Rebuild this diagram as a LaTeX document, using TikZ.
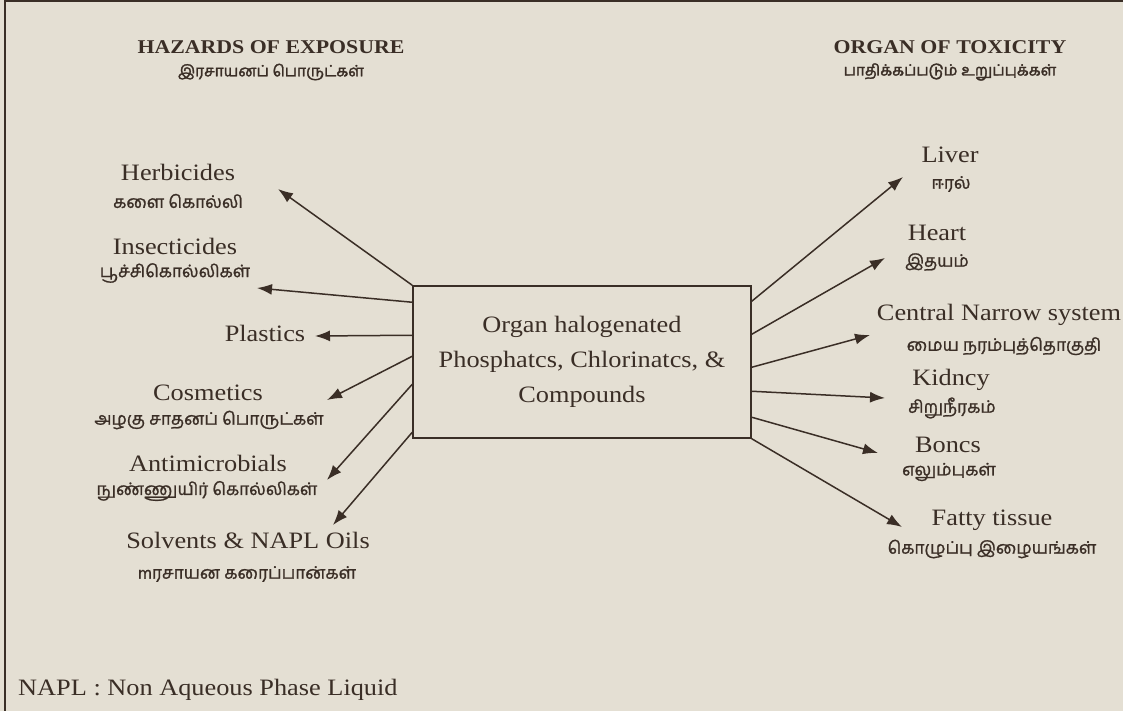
\documentclass[tikz,border=0pt]{standalone}
\usepackage{fontspec}
\setmainfont{Liberation Serif}[FakeStretch=1.12]
\newfontfamily\tamilfont[Script=Tamil,FakeBold=1.2]{Hind Madurai}
\newfontfamily\tamilheadfont[Script=Tamil,FakeBold=2]{Hind Madurai}
\usetikzlibrary{arrows.meta,positioning,calc}
\definecolor{paper}{RGB}{228,223,211}
\definecolor{ink}{RGB}{58,46,38}
\tikzset{
  eng/.style={font=\fontsize{23.5}{26}\selectfont,text=ink,inner sep=0pt},
  tam/.style={font=\tamilfont\fontsize{17.2}{20}\selectfont,text=ink,inner sep=0pt},
  head/.style={font=\fontsize{19.5}{22}\selectfont\bfseries,text=ink,inner sep=0pt},
  tamhead/.style={font=\tamilheadfont\fontsize{15.5}{18}\selectfont,text=ink,inner sep=0pt},
  arr/.style={-{Latex[length=15pt,width=11pt]},line width=1.5pt,draw=ink},
  source/.style={draw=ink,line width=1.5pt,minimum width=338pt,minimum height=152pt,
                 align=center,font=\fontsize{23.5}{35}\selectfont,text=ink},
}
\begin{document}
\begin{tikzpicture}[x=1pt,y=-1pt]
  \fill[paper] (0,0) rectangle (1123,711);
  \useasboundingbox (0,0) rectangle (1123,711);
  \draw[ink,line width=1.6pt] (5,711) -- (5,1) -- (1123,1);

  % headings
  \node[head]    (hazards)   at (271,47) {HAZARDS OF EXPOSURE};
  \node[tamhead] (hazardsta) at (271,72) {இரசாயனப் பொருட்கள்};
  \node[head]    (organs)    at (950,47) {ORGAN OF TOXICITY};
  \node[tamhead] (organsta)  at (950,72) {பாதிக்கப்படும் உறுப்புக்கள்};

  % centre box
  \node[source] (chem) at (582,362) {Organ halogenated\\Phosphatcs, Chlorinatcs, \&\\Compounds};

  % exposure side
  \node[eng] (herb)    at (178,172) {Herbicides};
  \node[tam] (herbta)  at (178,201) {களை கொல்லி};
  \node[eng] (insect)  at (175,246) {Insecticides};
  \node[tam] (insectta) at (175,273) {பூச்சிகொல்லிகள்};
  \node[eng] (plast)   at (265,333) {Plastics};
  \node[eng] (cosm)    at (208,393) {Cosmetics};
  \node[tam] (cosmta)  at (209,420) {அழகு சாதனப் பொருட்கள்};
  \node[eng] (antim)   at (208,463) {Antimicrobials};
  \node[tam] (antimta) at (207,491) {நுண்ணுயிர் கொல்லிகள்};
  \node[eng] (solv)    at (248,540) {Solvents \& NAPL Oils};
  \node[tam] (solvta)  at (247,574) {mரசாயன கரைப்பான்கள்};
  \node[eng,anchor=west] (napl) at (18,690) {NAPL : Non Aqueous Phase Liquid};

  % organ side
  \node[eng] (liver)   at (950,155) {Liver};
  \node[tam] (liverta) at (951,184) {ஈரல்};
  \node[eng] (heart)   at (937,233) {Heart};
  \node[tam] (heartta) at (937,262) {இதயம்};
  \node[eng] (cns)     at (999,315) {Central Narrow system};
  \node[tam] (cnsta)   at (1004,346) {மைய நரம்புத்தொகுதி};
  \node[eng] (kid)     at (951,380) {Kidncy};
  \node[tam] (kidta)   at (952,408) {சிறுநீரகம்};
  \node[eng] (bone)    at (948,445) {Boncs};
  \node[tam] (boneta)  at (949,472) {எலும்புகள்};
  \node[eng] (fat)     at (992,520) {Fatty tissue};
  \node[tam] (fatta)   at (992,549) {கொழுப்பு இழையங்கள்};

  % arrow tips
  \coordinate (herbtip)   at (278,189);
  \coordinate (insecttip) at (257,288);
  \coordinate (plasttip)  at (315,336);
  \coordinate (cosmtip)   at (327,400);
  \coordinate (antimtip)  at (327,480);
  \coordinate (solvtip)   at (333,525);
  \coordinate (livertip)  at (903,177);
  \coordinate (hearttip)  at (885,258);
  \coordinate (cnstip)    at (870,335);
  \coordinate (kidtip)    at (885,398);
  \coordinate (bonetip)   at (878,453);
  \coordinate (fattip)    at (902,527);

  \draw[arr] (chem.north west)              -- (herbtip);
  \draw[arr] ([yshift=-17pt]chem.north west) -- (insecttip);
  \draw[arr] ([yshift=-50pt]chem.north west) -- (plasttip);
  \draw[arr] ([yshift=-71pt]chem.north west) -- (cosmtip);
  \draw[arr] ([yshift=-99pt]chem.north west) -- (antimtip);
  \draw[arr] ([yshift=-147pt]chem.north west) -- (solvtip);

  \draw[arr] ([yshift=-16pt]chem.north east)  -- (livertip);
  \draw[arr] ([yshift=-49pt]chem.north east)  -- (hearttip);
  \draw[arr] ([yshift=-82pt]chem.north east)  -- (cnstip);
  \draw[arr] ([yshift=-106pt]chem.north east) -- (kidtip);
  \draw[arr] ([yshift=-132pt]chem.north east) -- (bonetip);
  \draw[arr] (chem.south east)                -- (fattip);
\end{tikzpicture}
\end{document}
